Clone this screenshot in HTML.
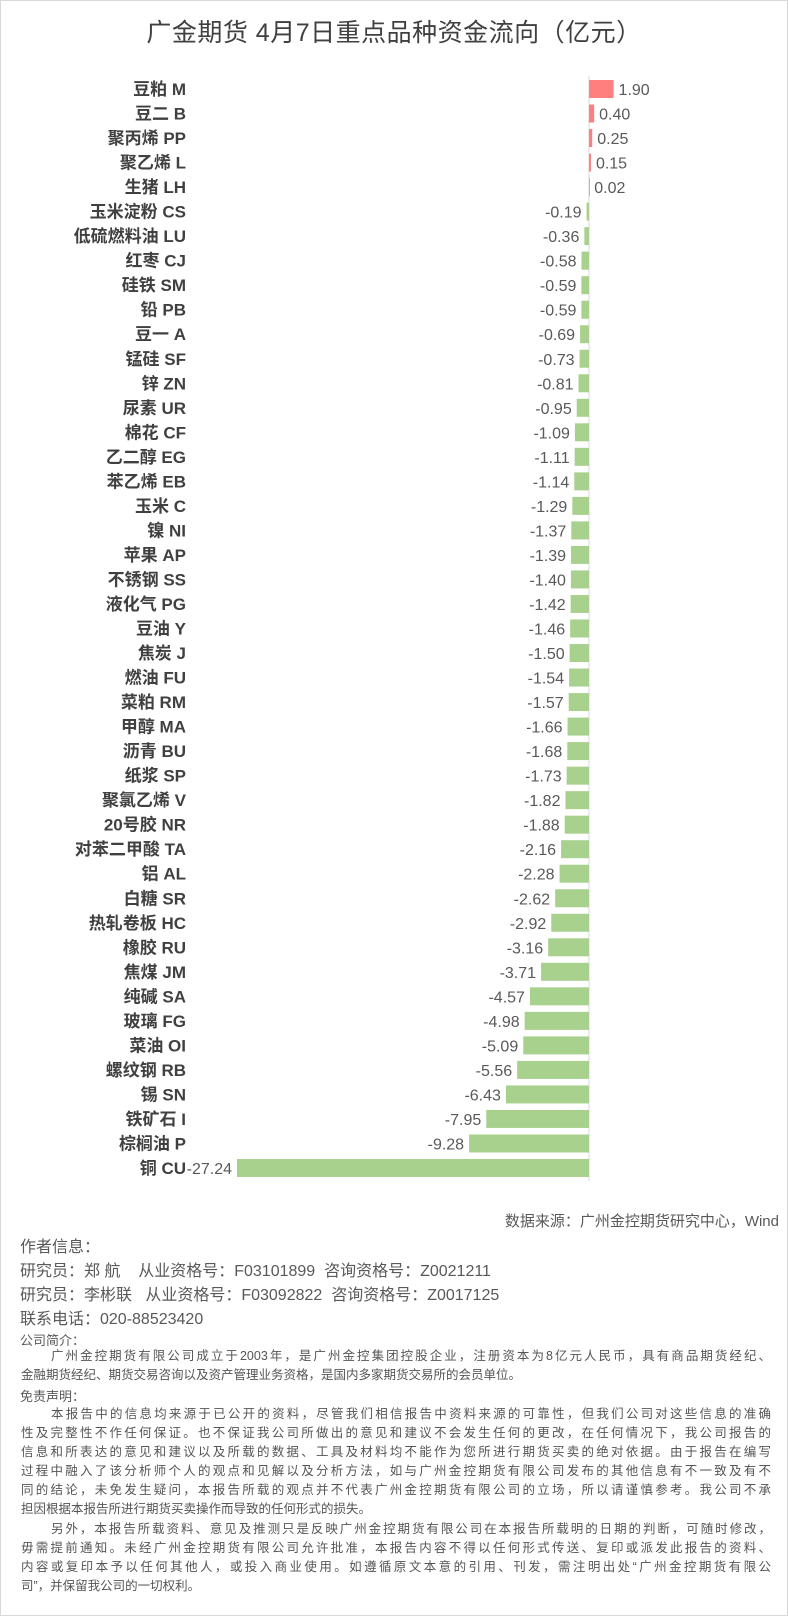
<!DOCTYPE html>
<html><head><meta charset="utf-8">
<style>
html,body{margin:0;padding:0;background:#fff;}
#page{position:relative;width:786px;height:1614px;border:1px solid #d9d9d9;overflow:hidden;font-family:"Liberation Sans","Noto Sans CJK SC",sans-serif;}
#title{position:absolute;left:0;width:786px;top:12px;text-align:center;font-size:25px;color:#404040;letter-spacing:0.5px;}
svg text{font-family:"Liberation Sans","Noto Sans CJK SC",sans-serif;}
.t{position:absolute;color:#595959;white-space:nowrap;}
.p{position:absolute;left:20px;width:750px;font-size:12.5px;color:#555;text-align:justify;text-align-last:justify;white-space:nowrap;line-height:19px;}
</style></head><body>
<div id="page">
<div id="title">广金期货 4月7日重点品种资金流向（亿元）</div>
<svg id="chart" width="788" height="1180" style="position:absolute;left:0;top:0"></svg>
<div class="t" style="right:8px;top:1209px;font-size:15px;">数据来源：广州金控期货研究中心，Wind</div>
<div class="t" style="left:19px;top:1232px;font-size:16px;">作者信息：</div>
<div class="t" style="left:19px;top:1256px;font-size:16px;">研究员：郑 航&nbsp;&nbsp;&nbsp;&nbsp;从业资格号：F03101899&nbsp;&nbsp;咨询资格号：Z0021211</div>
<div class="t" style="left:19px;top:1280px;font-size:16px;">研究员：李彬联&nbsp;&nbsp;&nbsp;从业资格号：F03092822&nbsp;&nbsp;咨询资格号：Z0017125</div>
<div class="t" style="left:19px;top:1304px;font-size:16px;">联系电话：020-88523420</div>
<div class="t" style="left:19px;top:1329px;font-size:13px;">公司简介：</div>
<div>
<div class="p" style="top:1346px;padding-left:30px;width:720px;">广州金控期货有限公司成立于2003年，是广州金控集团控股企业，注册资本为8亿元人民币，具有商品期货经纪、</div>
<div class="p" style="top:1365px;text-align-last:left;">金融期货经纪、期货交易咨询以及资产管理业务资格，是国内多家期货交易所的会员单位。</div>
</div>
<div class="t" style="left:19px;top:1385px;font-size:13px;">免责声明：</div>
<div>
<div class="p" style="top:1404px;padding-left:30px;width:720px;">本报告中的信息均来源于已公开的资料，尽管我们相信报告中资料来源的可靠性，但我们公司对这些信息的准确</div>
<div class="p" style="top:1423px;">性及完整性不作任何保证。也不保证我公司所做出的意见和建议不会发生任何的更改，在任何情况下，我公司报告的</div>
<div class="p" style="top:1442px;">信息和所表达的意见和建议以及所载的数据、工具及材料均不能作为您所进行期货买卖的绝对依据。由于报告在编写</div>
<div class="p" style="top:1461px;">过程中融入了该分析师个人的观点和见解以及分析方法，如与广州金控期货有限公司发布的其他信息有不一致及有不</div>
<div class="p" style="top:1480px;">同的结论，未免发生疑问，本报告所载的观点并不代表广州金控期货有限公司的立场，所以请谨慎参考。我公司不承</div>
<div class="p" style="top:1499px;text-align-last:left;">担因根据本报告所进行期货买卖操作而导致的任何形式的损失。</div>
<div class="p" style="top:1519px;padding-left:30px;width:720px;">另外，本报告所载资料、意见及推测只是反映广州金控期货有限公司在本报告所载明的日期的判断，可随时修改，</div>
<div class="p" style="top:1538px;">毋需提前通知。未经广州金控期货有限公司允许批准，本报告内容不得以任何形式传送、复印或派发此报告的资料、</div>
<div class="p" style="top:1557px;">内容或复印本予以任何其他人，或投入商业使用。如遵循原文本意的引用、刊发，需注明出处“广州金控期货有限公</div>
<div class="p" style="top:1576px;text-align-last:left;">司”，并保留我公司的一切权利。</div>
</div>
</div>
<script>
const categories=["豆粕 M","豆二 B","聚丙烯 PP","聚乙烯 L","生猪 LH","玉米淀粉 CS","低硫燃料油 LU","红枣 CJ","硅铁 SM","铅 PB","豆一 A","锰硅 SF","锌 ZN","尿素 UR","棉花 CF","乙二醇 EG","苯乙烯 EB","玉米 C","镍 NI","苹果 AP","不锈钢 SS","液化气 PG","豆油 Y","焦炭 J","燃油 FU","菜粕 RM","甲醇 MA","沥青 BU","纸浆 SP","聚氯乙烯 V","20号胶 NR","对苯二甲酸 TA","铝 AL","白糖 SR","热轧卷板 HC","橡胶 RU","焦煤 JM","纯碱 SA","玻璃 FG","菜油 OI","螺纹钢 RB","锡 SN","铁矿石 I","棕榈油 P","铜 CU"];
const values=[1.90,0.40,0.25,0.15,0.02,-0.19,-0.36,-0.58,-0.59,-0.59,-0.69,-0.73,-0.81,-0.95,-1.09,-1.11,-1.14,-1.29,-1.37,-1.39,-1.40,-1.42,-1.46,-1.50,-1.54,-1.57,-1.66,-1.68,-1.73,-1.82,-1.88,-2.16,-2.28,-2.62,-2.92,-3.16,-3.71,-4.57,-4.98,-5.09,-5.56,-6.43,-7.95,-9.28,-27.24];
const svg=document.getElementById('chart');
const NS='http://www.w3.org/2000/svg';
const x0=588, pxPerUnit=352/27.24, firstY=88, step=(1167-88)/(categories.length-1), barH=18;
function xs(v){return x0+v*pxPerUnit;}
function ys(i){return firstY+i*step;}
const axis=document.createElementNS(NS,'line');


axis.setAttribute('x1',x0);axis.setAttribute('x2',x0);axis.setAttribute('y1',75);axis.setAttribute('y2',1180);
axis.setAttribute('stroke','#d9d9d9');axis.setAttribute('stroke-width','1');
svg.appendChild(axis);
categories.forEach((c,i)=>{
  const v=values[i], y=ys(i);
  const r=document.createElementNS(NS,'rect');
  
  
  const a=xs(v);
  r.setAttribute('x',Math.min(a,x0));r.setAttribute('width',Math.max(Math.abs(a-x0),0.8));
  r.setAttribute('y',y-barH/2);r.setAttribute('height',barH);
  r.setAttribute('fill',v>=0?'#ff7f7f':'#a9d18e');
  svg.appendChild(r);
  const l=document.createElementNS(NS,'text');
  
  
  l.setAttribute('x',185);l.setAttribute('y',y+6);l.setAttribute('text-anchor','end');
  l.setAttribute('font-size','17');l.setAttribute('font-weight','bold');l.setAttribute('fill','#404040');
  l.textContent=c;svg.appendChild(l);
  const t=document.createElementNS(NS,'text');
  
  
  t.setAttribute('font-size','16');t.setAttribute('fill','#595959');
  t.setAttribute('y',y+6);
  if(v>=0){t.setAttribute('x',a+5);t.setAttribute('text-anchor','start');}
  else{t.setAttribute('x',a-5);t.setAttribute('text-anchor','end');}
  t.textContent=v.toFixed(2);svg.appendChild(t);
});
</script>
</body></html>
